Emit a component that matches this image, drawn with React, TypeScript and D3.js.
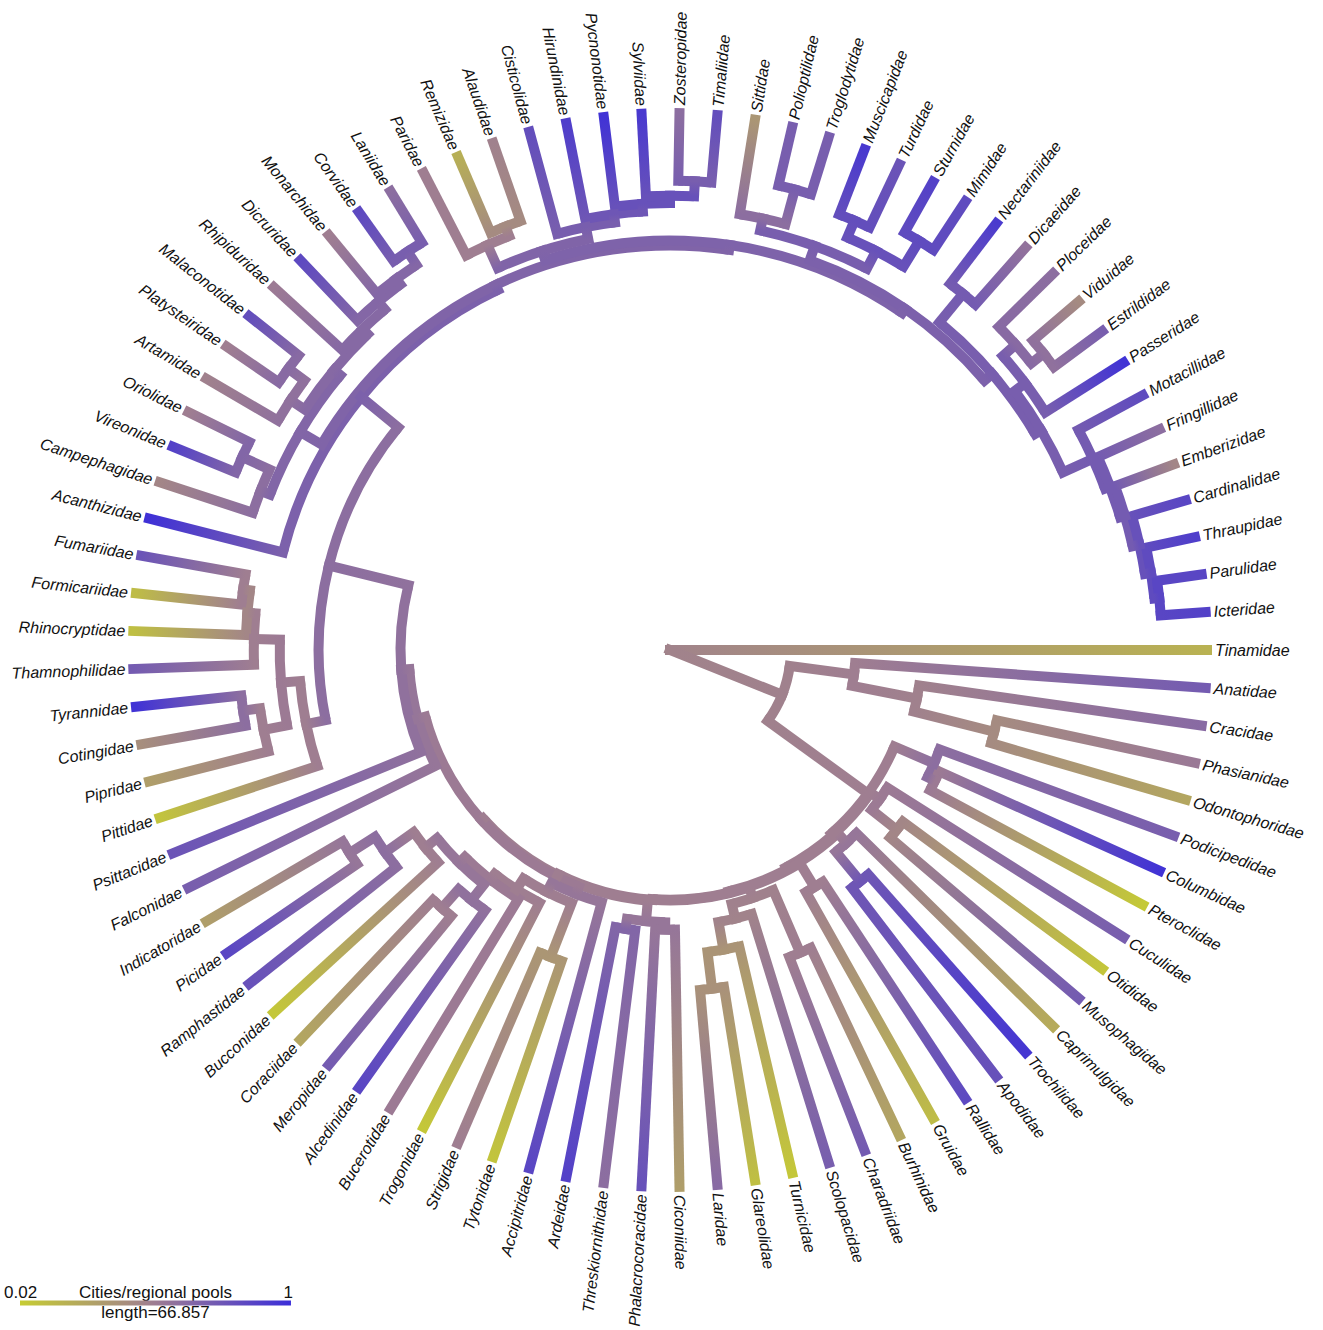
import React, { useMemo } from "react";
import * as d3 from "d3";

// Tip order of the fan, clockwise from the east.
const families = [
  "Tinamidae", "Anatidae", "Cracidae", "Phasianidae", "Odontophoridae",
  "Podicipedidae", "Columbidae", "Pteroclidae", "Cuculidae", "Otididae",
  "Musophagidae", "Caprimulgidae", "Trochilidae", "Apodidae", "Rallidae",
  "Gruidae", "Burhinidae", "Charadriidae", "Scolopacidae", "Turnicidae",
  "Glareolidae", "Laridae", "Ciconiidae", "Phalacrocoracidae", "Threskiornithidae",
  "Ardeidae", "Accipitridae", "Tytonidae", "Strigidae", "Trogonidae",
  "Bucerotidae", "Alcedinidae", "Meropidae", "Coraciidae", "Bucconidae",
  "Ramphastidae", "Picidae", "Indicatoridae", "Falconidae", "Psittacidae",
  "Pittidae", "Pipridae", "Cotingidae", "Tyrannidae", "Thamnophilidae",
  "Rhinocryptidae", "Formicariidae", "Fumariidae", "Acanthizidae", "Campephagidae",
  "Vireonidae", "Oriolidae", "Artamidae", "Platysteiridae", "Malaconotidae",
  "Rhipiduridae", "Dicruridae", "Monarchidae", "Corvidae", "Laniidae",
  "Paridae", "Remizidae", "Alaudidae", "Cisticolidae", "Hirundinidae",
  "Pycnonotidae", "Sylviidae", "Zosteropidae", "Timaliidae", "Sittidae",
  "Polioptilidae", "Troglodytidae", "Muscicapidae", "Turdidae", "Sturnidae",
  "Mimidae", "Nectariniidae", "Dicaeidae", "Ploceidae", "Viduidae",
  "Estrildidae", "Passeridae", "Motacillidae", "Fringillidae", "Emberizidae",
  "Cardinalidae", "Thraupidae", "Parulidae", "Icteridae",
];

// Trait value (cities / regional pools) at each tip.
const tipValues = [
  0.18, 0.72, 0.62, 0.53, 0.25,
  0.7, 0.97, 0.04, 0.7, 0.06,
  0.72, 0.22, 0.95, 0.78, 0.83,
  0.12, 0.25, 0.72, 0.7, 0.05,
  0.1, 0.62, 0.3, 0.78, 0.6,
  0.88, 0.85, 0.07, 0.5, 0.05,
  0.52, 0.85, 0.72, 0.25, 0.05,
  0.78, 0.85, 0.3, 0.7, 0.76,
  0.07, 0.3, 0.4, 0.97, 0.72,
  0.1, 0.12, 0.76, 0.98, 0.45,
  0.88, 0.5, 0.48, 0.5, 0.8,
  0.52, 0.83, 0.5, 0.83, 0.6,
  0.5, 0.2, 0.48, 0.8, 0.9,
  0.97, 0.93, 0.6, 0.8, 0.35,
  0.7, 0.7, 0.93, 0.76, 0.88,
  0.82, 0.92, 0.57, 0.6, 0.42,
  0.7, 0.97, 0.82, 0.6, 0.45,
  0.85, 0.9, 0.85, 0.88,
];

// Internal nodes: [first tip, last tip, distance from root, reconstructed value]
const clades: [number, number, number, number][] = [
  [0, 88, 0, 0.47],
  [1, 88, 29.8, 0.48],
  [1, 4, 45.8, 0.5],
  [2, 4, 62.1, 0.48],
  [3, 4, 82.5, 0.42],
  [5, 88, 60.3, 0.5],
  [5, 7, 70.9, 0.6],
  [6, 7, 72.9, 0.52],
  [8, 88, 60.8, 0.5],
  [8, 10, 63.5, 0.52],
  [9, 10, 71.4, 0.45],
  [11, 88, 61.3, 0.5],
  [11, 13, 64.5, 0.55],
  [12, 13, 73.9, 0.75],
  [14, 88, 61.6, 0.5],
  [14, 15, 68.5, 0.5],
  [16, 88, 61.8, 0.5],
  [16, 21, 64.5, 0.48],
  [16, 17, 81.3, 0.5],
  [18, 21, 68.2, 0.47],
  [19, 21, 75.1, 0.36],
  [20, 21, 84.2, 0.38],
  [22, 88, 62.1, 0.5],
  [22, 25, 67.2, 0.55],
  [22, 23, 69.0, 0.55],
  [24, 25, 69.7, 0.65],
  [26, 88, 62.6, 0.52],
  [26, 37, 64.5, 0.55],
  [27, 37, 67.0, 0.5],
  [27, 28, 81.3, 0.35],
  [29, 37, 70.2, 0.5],
  [30, 37, 71.9, 0.52],
  [31, 37, 73.9, 0.55],
  [31, 33, 78.8, 0.58],
  [32, 33, 85.0, 0.5],
  [34, 37, 77.6, 0.5],
  [35, 37, 86.2, 0.6],
  [36, 37, 93.6, 0.55],
  [38, 88, 64.5, 0.55],
  [39, 88, 66.5, 0.58],
  [40, 88, 86.7, 0.6],
  [40, 47, 91.6, 0.5],
  [41, 47, 96.3, 0.52],
  [41, 43, 102.2, 0.5],
  [42, 43, 106.4, 0.6],
  [44, 47, 102.7, 0.5],
  [45, 47, 104.7, 0.45],
  [46, 47, 106.4, 0.5],
  [48, 88, 98.5, 0.68],
  [49, 88, 99.8, 0.66],
  [49, 59, 105.9, 0.65],
  [49, 51, 108.4, 0.6],
  [50, 51, 115.8, 0.65],
  [52, 59, 107.9, 0.63],
  [52, 54, 112.1, 0.58],
  [53, 54, 117.0, 0.62],
  [55, 59, 109.6, 0.63],
  [56, 59, 112.1, 0.64],
  [57, 59, 113.8, 0.64],
  [58, 59, 117.7, 0.7],
  [60, 88, 101.0, 0.67],
  [60, 68, 103.4, 0.66],
  [60, 62, 109.6, 0.5],
  [61, 62, 112.1, 0.42],
  [63, 68, 106.4, 0.7],
  [64, 68, 108.4, 0.75],
  [65, 68, 110.3, 0.78],
  [66, 68, 112.1, 0.78],
  [67, 68, 115.8, 0.7],
  [69, 88, 102.2, 0.68],
  [69, 75, 105.9, 0.7],
  [69, 71, 108.9, 0.6],
  [70, 71, 117.7, 0.7],
  [72, 75, 110.8, 0.78],
  [72, 73, 115.3, 0.8],
  [74, 75, 118.2, 0.82],
  [76, 88, 104.7, 0.7],
  [76, 77, 113.8, 0.72],
  [78, 88, 106.4, 0.7],
  [78, 81, 109.6, 0.7],
  [78, 80, 113.8, 0.62],
  [79, 80, 117.7, 0.58],
  [82, 88, 114.5, 0.72],
  [83, 88, 115.8, 0.72],
  [84, 88, 117.0, 0.72],
  [85, 88, 118.7, 0.78],
  [86, 88, 120.2, 0.82],
  [87, 88, 121.4, 0.85],
];

const treeHeight = 132.5;
const scaleBarLength = 66.857;
const traitDomain = [0.02, 1];
const legendTitle = "Cities/regional pools";

type TreeNode = {
  id: string;
  lo: number;
  hi: number;
  depth: number;
  value: number;
  angle: number;
  children: TreeNode[];
  parent?: TreeNode;
  name?: string;
};

function buildTree() {
  const n = families.length;
  const tips: TreeNode[] = families.map((name, i) => ({
    id: `t${i}`, lo: i, hi: i, depth: treeHeight, value: tipValues[i],
    angle: (i * 2 * Math.PI) / n, children: [], name,
  }));
  const inner: TreeNode[] = clades.map(([lo, hi, depth, value], k) => ({
    id: `n${k}`, lo, hi, depth, value, angle: 0, children: [],
  }));
  const span = (a: TreeNode) => a.hi - a.lo;
  const all = [...tips, ...inner];
  for (const node of all) {
    let best: TreeNode | undefined;
    for (const c of inner) {
      if (c === node) continue;
      if (c.lo <= node.lo && c.hi >= node.hi && span(c) > span(node)) {
        if (!best || span(c) < span(best)) best = c;
      }
    }
    if (best) {
      node.parent = best;
      best.children.push(node);
    }
  }
  const root = inner.find((c) => !c.parent)!;
  // node angle = mean of its daughters' angles
  const setAngle = (node: TreeNode): number => {
    if (node.children.length === 0) return node.angle;
    node.children.sort((a, b) => a.lo - b.lo);
    node.angle = d3.mean(node.children.map(setAngle)) as number;
    return node.angle;
  };
  setAngle(root);
  return { all, inner, tips, root };
}

export default function App() {
  const width = 1323;
  const height = 1330;
  const cx = 670;
  const cy = 650;
  const tipRadius = 537;
  const lw = 10;

  const { all, inner, tips } = useMemo(buildTree, []);

  const rScale = d3.scaleLinear().domain([0, treeHeight]).range([0, tipRadius]);
  const color = d3
    .scaleLinear<string>()
    .domain([traitDomain[0], (traitDomain[0] + traitDomain[1]) / 2, traitDomain[1]])
    .range(["#c6cc33", "#9e7c93", "#3b2ed9"])
    .interpolate(d3.interpolateRgb)
    .clamp(true);

  const pt = (r: number, a: number): [number, number] => [
    cx + r * Math.cos(a),
    cy + r * Math.sin(a),
  ];

  // radial branches, shaded from the parent's value to the node's value
  const edges = all
    .filter((d) => d.parent)
    .map((d) => {
      const p = d.parent!;
      const [x1, y1] = pt(rScale(p.depth), d.angle);
      const [x2, y2] = pt(rScale(d.depth), d.angle);
      return { id: d.id, x1, y1, x2, y2, c1: color(p.value), c2: color(d.value) };
    });

  // arcs joining the daughters of each internal node
  const arcs = inner
    .filter((d) => d.depth > 0 && d.children.length > 1)
    .map((d) => {
      const r = rScale(d.depth);
      const a1 = d3.min(d.children, (c) => c.angle) as number;
      const a2 = d3.max(d.children, (c) => c.angle) as number;
      const [x1, y1] = pt(r, a1);
      const [x2, y2] = pt(r, a2);
      const large = a2 - a1 > Math.PI ? 1 : 0;
      return {
        id: d.id,
        path: `M${x1},${y1} A${r},${r} 0 ${large} 1 ${x2},${y2}`,
        col: color(d.value),
      };
    });

  const legendX = 20;
  const legendY = 1303;
  const legendLen = rScale(scaleBarLength);
  const legendStops = d3.range(0, 1.0001, 0.1).map((t) => ({
    t,
    c: color(traitDomain[0] + t * (traitDomain[1] - traitDomain[0])),
  }));

  const labelFont = "'Liberation Sans', Arial, Helvetica, sans-serif";

  return (
    <svg
      width={width}
      height={height}
      style={{ position: "absolute", left: 0, top: 0, background: "#ffffff" }}
    >
      <defs>
        {edges.map((e) => (
          <linearGradient
            key={`g${e.id}`}
            id={`g${e.id}`}
            gradientUnits="userSpaceOnUse"
            x1={e.x1}
            y1={e.y1}
            x2={e.x2}
            y2={e.y2}
          >
            <stop offset="0" stopColor={e.c1} />
            <stop offset="1" stopColor={e.c2} />
          </linearGradient>
        ))}
        <linearGradient id="legendGrad" x1="0" y1="0" x2="1" y2="0">
          {legendStops.map((s) => (
            <stop key={s.t} offset={s.t} stopColor={s.c} />
          ))}
        </linearGradient>
      </defs>

      <g fill="none" strokeWidth={lw}>
        {arcs.map((a) => (
          <path key={a.id} d={a.path} stroke={a.col} strokeLinecap="butt" />
        ))}
        {edges.map((e) => (
          <line
            key={e.id}
            x1={e.x1}
            y1={e.y1}
            x2={e.x2}
            y2={e.y2}
            stroke={`url(#g${e.id})`}
            strokeLinecap="square"
          />
        ))}
      </g>

      <g fontFamily={labelFont} fontStyle="italic" fontSize={16} fill="#111">
        {tips.map((t) => {
          const deg = (t.angle * 180) / Math.PI;
          const flip = Math.cos(t.angle) < 0;
          const off = tipRadius + 8;
          return (
            <text
              key={t.id}
              transform={`translate(${cx},${cy}) rotate(${flip ? deg + 180 : deg})`}
              x={flip ? -off : off}
              y={0}
              dominantBaseline="central"
              textAnchor={flip ? "end" : "start"}
            >
              {t.name}
            </text>
          );
        })}
      </g>

      <g fontFamily={labelFont} fontSize={17} fill="#111">
        <text x={4} y={1298}>{traitDomain[0].toString()}</text>
        <text x={legendX + legendLen + 2} y={1298} textAnchor="end">
          {traitDomain[1].toString()}
        </text>
        <text x={legendX + legendLen / 2} y={1298} textAnchor="middle">
          {legendTitle}
        </text>
        <rect
          x={legendX}
          y={legendY - 2.5}
          width={legendLen}
          height={5}
          fill="url(#legendGrad)"
        />
        <text x={legendX + legendLen / 2} y={1318} textAnchor="middle">
          {`length=${scaleBarLength}`}
        </text>
      </g>
    </svg>
  );
}
